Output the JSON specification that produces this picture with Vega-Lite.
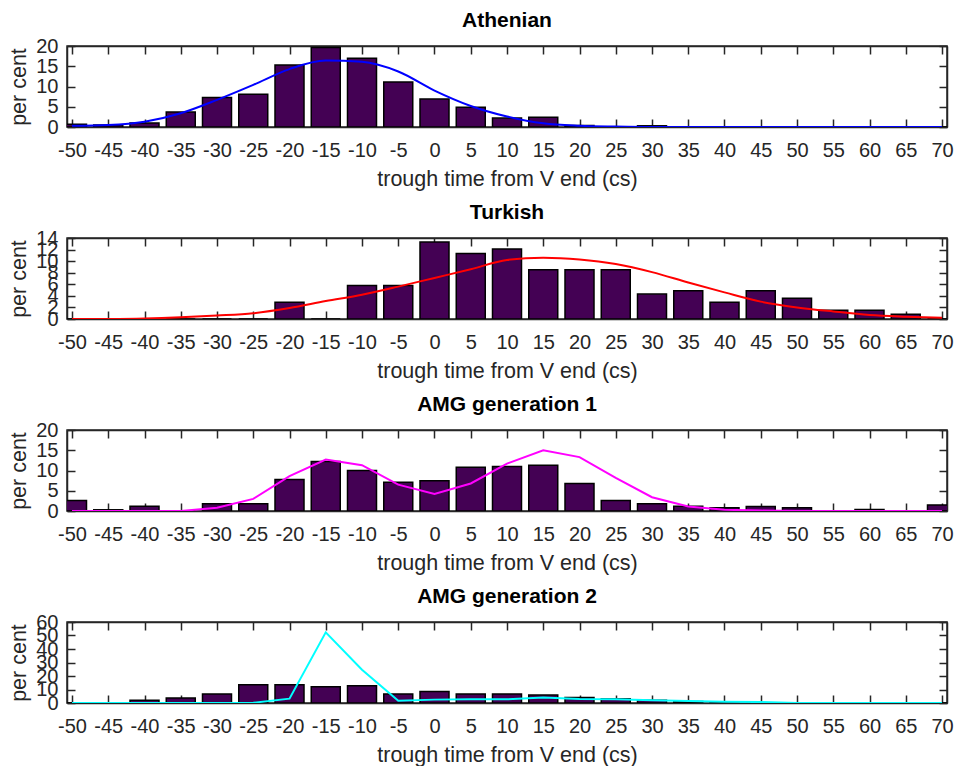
{
  "$schema": "https://vega.github.io/schema/vega-lite/v6.json",
  "padding": {"left": 8, "top": 9, "right": 5, "bottom": 2},
  "spacing": 10,
  "config": {
    "font": "Liberation Sans",
    "view": {"stroke": "#262626", "strokeWidth": 1.5},
    "axis": {
      "grid": false,
      "domainColor": "#262626",
      "domainWidth": 1.5,
      "tickColor": "#262626",
      "tickWidth": 1.5,
      "tickSize": -8,
      "labelFontSize": 20,
      "labelColor": "#262626",
      "labelOverlap": false,
      "labelFlush": false,
      "labelExpr": "'' + datum.value",
      "titleFontSize": 21.5,
      "titleFontWeight": "normal",
      "titleColor": "#262626"
    },
    "axisX": {"labelPadding": 21, "titlePadding": 8},
    "axisY": {"labelPadding": 17, "titlePadding": 5},
    "title": {"fontSize": 21, "fontWeight": "bold", "color": "#000000", "offset": 5}
  },
  "vconcat": [
    {
      "title": "Athenian",
      "width": 880,
      "height": 81,
      "data": {"values": [
        {"t": -50, "bar": 0.7, "fit": 0.3},
        {"t": -45, "bar": 0.5, "fit": 0.5},
        {"t": -40, "bar": 1.0, "fit": 1.3},
        {"t": -35, "bar": 3.7, "fit": 3.4},
        {"t": -30, "bar": 7.3, "fit": 6.7},
        {"t": -25, "bar": 8.1, "fit": 10.4},
        {"t": -20, "bar": 15.3, "fit": 14.3},
        {"t": -15, "bar": 19.6, "fit": 16.4},
        {"t": -10, "bar": 17.0, "fit": 16.1},
        {"t": -5, "bar": 11.1, "fit": 13.7},
        {"t": 0, "bar": 6.9, "fit": 9.0},
        {"t": 5, "bar": 4.9, "fit": 5.2},
        {"t": 10, "bar": 2.2, "fit": 2.6},
        {"t": 15, "bar": 2.4, "fit": 0.9},
        {"t": 20, "bar": 0.4, "fit": 0.3},
        {"t": 25, "bar": 0, "fit": 0.1},
        {"t": 30, "bar": 0.3, "fit": 0},
        {"t": 35, "bar": 0, "fit": 0},
        {"t": 40, "bar": 0, "fit": 0},
        {"t": 45, "bar": 0, "fit": 0},
        {"t": 50, "bar": 0, "fit": 0},
        {"t": 55, "bar": 0, "fit": 0},
        {"t": 60, "bar": 0, "fit": 0},
        {"t": 65, "bar": 0, "fit": 0},
        {"t": 70, "bar": 0, "fit": 0}
      ]},
      "layer": [
        {
          "mark": {"type": "bar", "size": 29, "clip": true, "fill": "#440154", "stroke": "#000000", "strokeWidth": 1.5},
          "encoding": {
            "x": {"field": "t", "type": "quantitative", "scale": {"domain": [-50, 70], "nice": false, "zero": false},
                  "axis": {"orient": "bottom", "values": [-50,-45,-40,-35,-30,-25,-20,-15,-10,-5,0,5,10,15,20,25,30,35,40,45,50,55,60,65,70], "title": "trough time from V end (cs)"}},
            "y": {"field": "bar", "type": "quantitative", "scale": {"domain": [0, 20], "nice": false},
                  "axis": {"orient": "left", "values": [0, 5, 10, 15, 20], "title": "per cent"}}
          }
        },
        {
          "mark": {"type": "line", "color": "#0000ff", "strokeWidth": 2, "interpolate": "monotone", "clip": true},
          "encoding": {
            "x": {"field": "t", "type": "quantitative",
                  "axis": {"orient": "top", "values": [-50,-45,-40,-35,-30,-25,-20,-15,-10,-5,0,5,10,15,20,25,30,35,40,45,50,55,60,65,70], "labels": false, "title": null}},
            "y": {"field": "fit", "type": "quantitative",
                  "axis": {"orient": "right", "values": [0, 5, 10, 15, 20], "labels": false, "title": null}}
          }
        }
      ],
      "resolve": {"axis": {"x": "independent", "y": "independent"}}
    },
    {
      "title": "Turkish",
      "width": 880,
      "height": 81,
      "data": {"values": [
        {"t": -50, "bar": 0, "fit": 0.0},
        {"t": -45, "bar": 0, "fit": 0.02},
        {"t": -40, "bar": 0, "fit": 0.1},
        {"t": -35, "bar": 0, "fit": 0.3},
        {"t": -30, "bar": 0, "fit": 0.6},
        {"t": -25, "bar": 0, "fit": 1.0},
        {"t": -20, "bar": 2.9, "fit": 1.9},
        {"t": -15, "bar": 0, "fit": 3.1},
        {"t": -10, "bar": 5.8, "fit": 4.2},
        {"t": -5, "bar": 5.8, "fit": 5.6},
        {"t": 0, "bar": 13.3, "fit": 7.1},
        {"t": 5, "bar": 11.3, "fit": 8.6},
        {"t": 10, "bar": 12.1, "fit": 10.2},
        {"t": 15, "bar": 8.5, "fit": 10.6},
        {"t": 20, "bar": 8.5, "fit": 10.3},
        {"t": 25, "bar": 8.5, "fit": 9.5},
        {"t": 30, "bar": 4.3, "fit": 8.1},
        {"t": 35, "bar": 4.9, "fit": 6.3},
        {"t": 40, "bar": 2.9, "fit": 4.6},
        {"t": 45, "bar": 4.9, "fit": 3.0},
        {"t": 50, "bar": 3.6, "fit": 2.0},
        {"t": 55, "bar": 1.5, "fit": 1.3},
        {"t": 60, "bar": 1.5, "fit": 0.7},
        {"t": 65, "bar": 0.8, "fit": 0.4},
        {"t": 70, "bar": 0, "fit": 0.2}
      ]},
      "layer": [
        {
          "mark": {"type": "bar", "size": 29, "clip": true, "fill": "#440154", "stroke": "#000000", "strokeWidth": 1.5},
          "encoding": {
            "x": {"field": "t", "type": "quantitative", "scale": {"domain": [-50, 70], "nice": false, "zero": false},
                  "axis": {"orient": "bottom", "values": [-50,-45,-40,-35,-30,-25,-20,-15,-10,-5,0,5,10,15,20,25,30,35,40,45,50,55,60,65,70], "title": "trough time from V end (cs)"}},
            "y": {"field": "bar", "type": "quantitative", "scale": {"domain": [0, 14], "nice": false},
                  "axis": {"orient": "left", "values": [0, 2, 4, 6, 8, 10, 12, 14], "title": "per cent"}}
          }
        },
        {
          "mark": {"type": "line", "color": "#ff0000", "strokeWidth": 2, "interpolate": "monotone", "clip": true},
          "encoding": {
            "x": {"field": "t", "type": "quantitative",
                  "axis": {"orient": "top", "values": [-50,-45,-40,-35,-30,-25,-20,-15,-10,-5,0,5,10,15,20,25,30,35,40,45,50,55,60,65,70], "labels": false, "title": null}},
            "y": {"field": "fit", "type": "quantitative",
                  "axis": {"orient": "right", "values": [0, 2, 4, 6, 8, 10, 12, 14], "labels": false, "title": null}}
          }
        }
      ],
      "resolve": {"axis": {"x": "independent", "y": "independent"}}
    },
    {
      "title": "AMG generation 1",
      "width": 880,
      "height": 81,
      "data": {"values": [
        {"t": -50, "bar": 2.6, "fit": 0},
        {"t": -45, "bar": 0.3, "fit": 0},
        {"t": -40, "bar": 1.2, "fit": 0},
        {"t": -35, "bar": 0, "fit": 0},
        {"t": -30, "bar": 1.8, "fit": 0.8},
        {"t": -25, "bar": 1.8, "fit": 3.0},
        {"t": -20, "bar": 7.8, "fit": 8.6},
        {"t": -15, "bar": 12.2, "fit": 12.7},
        {"t": -10, "bar": 10.0, "fit": 11.3},
        {"t": -5, "bar": 7.1, "fit": 6.5},
        {"t": 0, "bar": 7.5, "fit": 4.2},
        {"t": 5, "bar": 10.8, "fit": 6.8},
        {"t": 10, "bar": 11.0, "fit": 11.7},
        {"t": 15, "bar": 11.3, "fit": 15.0},
        {"t": 20, "bar": 6.8, "fit": 13.3},
        {"t": 25, "bar": 2.6, "fit": 8.2},
        {"t": 30, "bar": 1.8, "fit": 3.4},
        {"t": 35, "bar": 1.2, "fit": 1.1},
        {"t": 40, "bar": 0.8, "fit": 0.3},
        {"t": 45, "bar": 1.1, "fit": 0.1},
        {"t": 50, "bar": 0.8, "fit": 0},
        {"t": 55, "bar": 0, "fit": 0},
        {"t": 60, "bar": 0.4, "fit": 0},
        {"t": 65, "bar": 0, "fit": 0},
        {"t": 70, "bar": 1.5, "fit": 0}
      ]},
      "layer": [
        {
          "mark": {"type": "bar", "size": 29, "clip": true, "fill": "#440154", "stroke": "#000000", "strokeWidth": 1.5},
          "encoding": {
            "x": {"field": "t", "type": "quantitative", "scale": {"domain": [-50, 70], "nice": false, "zero": false},
                  "axis": {"orient": "bottom", "values": [-50,-45,-40,-35,-30,-25,-20,-15,-10,-5,0,5,10,15,20,25,30,35,40,45,50,55,60,65,70], "title": "trough time from V end (cs)"}},
            "y": {"field": "bar", "type": "quantitative", "scale": {"domain": [0, 20], "nice": false},
                  "axis": {"orient": "left", "values": [0, 5, 10, 15, 20], "title": "per cent"}}
          }
        },
        {
          "mark": {"type": "line", "color": "#ff00ff", "strokeWidth": 2, "clip": true},
          "encoding": {
            "x": {"field": "t", "type": "quantitative",
                  "axis": {"orient": "top", "values": [-50,-45,-40,-35,-30,-25,-20,-15,-10,-5,0,5,10,15,20,25,30,35,40,45,50,55,60,65,70], "labels": false, "title": null}},
            "y": {"field": "fit", "type": "quantitative",
                  "axis": {"orient": "right", "values": [0, 5, 10, 15, 20], "labels": false, "title": null}}
          }
        }
      ],
      "resolve": {"axis": {"x": "independent", "y": "independent"}}
    },
    {
      "title": "AMG generation 2",
      "width": 880,
      "height": 81,
      "data": {"values": [
        {"t": -50, "bar": 0, "fit": 0},
        {"t": -45, "bar": 0, "fit": 0},
        {"t": -40, "bar": 2.0, "fit": 0},
        {"t": -35, "bar": 3.7, "fit": 0},
        {"t": -30, "bar": 6.7, "fit": 0},
        {"t": -25, "bar": 13.6, "fit": 0.2},
        {"t": -20, "bar": 13.6, "fit": 3.2},
        {"t": -15, "bar": 12.1, "fit": 52.3},
        {"t": -10, "bar": 12.8, "fit": 24.7},
        {"t": -5, "bar": 6.7, "fit": 1.7},
        {"t": 0, "bar": 8.6, "fit": 2.5},
        {"t": 5, "bar": 6.7, "fit": 2.7},
        {"t": 10, "bar": 6.7, "fit": 2.7},
        {"t": 15, "bar": 5.9, "fit": 4.0},
        {"t": 20, "bar": 4.0, "fit": 3.0},
        {"t": 25, "bar": 3.2, "fit": 2.7},
        {"t": 30, "bar": 2.0, "fit": 2.0},
        {"t": 35, "bar": 1.2, "fit": 1.5},
        {"t": 40, "bar": 0.5, "fit": 1.0},
        {"t": 45, "bar": 0, "fit": 0.7},
        {"t": 50, "bar": 0, "fit": 0},
        {"t": 55, "bar": 0, "fit": 0},
        {"t": 60, "bar": 0, "fit": 0},
        {"t": 65, "bar": 0, "fit": 0},
        {"t": 70, "bar": 0, "fit": 0}
      ]},
      "layer": [
        {
          "mark": {"type": "bar", "size": 29, "clip": true, "fill": "#440154", "stroke": "#000000", "strokeWidth": 1.5},
          "encoding": {
            "x": {"field": "t", "type": "quantitative", "scale": {"domain": [-50, 70], "nice": false, "zero": false},
                  "axis": {"orient": "bottom", "values": [-50,-45,-40,-35,-30,-25,-20,-15,-10,-5,0,5,10,15,20,25,30,35,40,45,50,55,60,65,70], "title": "trough time from V end (cs)"}},
            "y": {"field": "bar", "type": "quantitative", "scale": {"domain": [0, 60], "nice": false},
                  "axis": {"orient": "left", "values": [0, 10, 20, 30, 40, 50, 60], "title": "per cent"}}
          }
        },
        {
          "mark": {"type": "line", "color": "#00ffff", "strokeWidth": 2, "clip": true},
          "encoding": {
            "x": {"field": "t", "type": "quantitative",
                  "axis": {"orient": "top", "values": [-50,-45,-40,-35,-30,-25,-20,-15,-10,-5,0,5,10,15,20,25,30,35,40,45,50,55,60,65,70], "labels": false, "title": null}},
            "y": {"field": "fit", "type": "quantitative",
                  "axis": {"orient": "right", "values": [0, 10, 20, 30, 40, 50, 60], "labels": false, "title": null}}
          }
        }
      ],
      "resolve": {"axis": {"x": "independent", "y": "independent"}}
    }
  ]
}
